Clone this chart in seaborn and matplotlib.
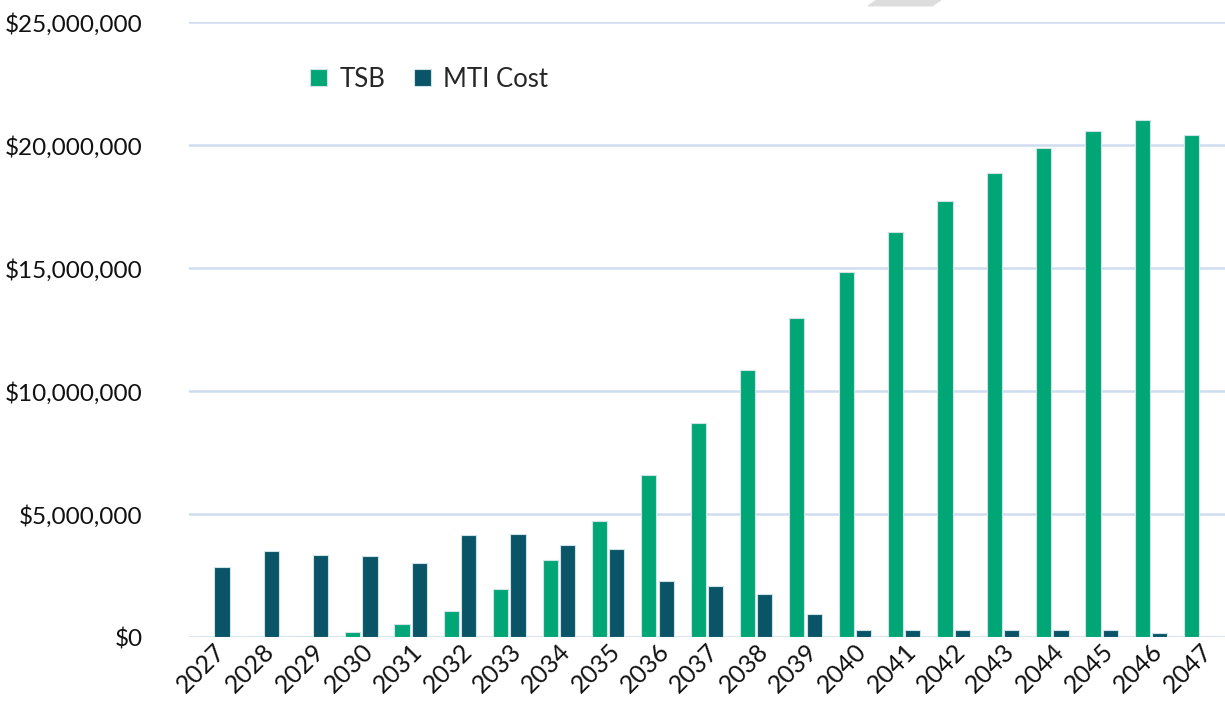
import matplotlib
matplotlib.use('Agg')
import matplotlib.pyplot as plt
import matplotlib.ticker as mticker
from matplotlib.patches import Polygon
import pandas as pd
import seaborn as sb

years = [str(y) for y in range(2027, 2048)]
tsb = [0, 0, 0.06, 0.20, 0.53, 1.07, 1.97, 3.15, 4.71, 6.58, 8.70, 10.85,
       12.97, 14.86, 16.46, 17.74, 18.88, 19.90, 20.57, 21.04, 20.42]
mti_cost = [2.83, 3.48, 3.33, 3.30, 3.03, 4.14, 4.18, 3.74, 3.57, 2.27, 2.07,
            1.75, 0.92, 0.27, 0.27, 0.30, 0.27, 0.28, 0.28, 0.18, 0]
series = ['TSB', 'MTI Cost']
colors = ['#00A676', '#0A5467']

df = pd.DataFrame({'year': years * 2,
                   'value': [v * 1e6 for v in tsb + mti_cost],
                   'series': [series[0]] * len(years) + [series[1]] * len(years)})

sb.set_style('white')
plt.rcParams['font.family'] = ['Lato', 'DejaVu Sans']

fig = plt.figure(figsize=(12.25, 7.19), dpi=100)
ax = fig.add_axes([0.154, 0.114, 0.846, 0.855])
sb.barplot(data=df, x='year', y='value', hue='series', palette=colors,
           saturation=1, width=0.7, gap=0.12, edgecolor='#cfe3e6',
           linewidth=0.8, ax=ax)

ax.set_ylim(0, 25e6)
ax.set_xlim(-0.5, len(years) - 0.5)
ax.yaxis.set_major_locator(mticker.MultipleLocator(5e6))
ax.yaxis.set_major_formatter(mticker.FuncFormatter(lambda v, p: '${:,.0f}'.format(v)))
ax.grid(axis='y', color='#d0dcf0', linewidth=1.8)
ax.set_axisbelow(True)
for s in ax.spines.values():
    s.set_visible(False)
ax.set_xlabel('')
ax.set_ylabel('')
ax.tick_params(axis='y', labelsize=17.5, pad=33, length=0, colors='#111111')
ax.tick_params(axis='x', labelsize=18, length=0, pad=2, colors='#111111')
plt.setp(ax.get_xticklabels(), rotation=45, ha='right', rotation_mode='anchor')

ax.legend(loc='upper left', bbox_to_anchor=(0.095, 0.965), ncol=2, frameon=False,
          fontsize=18.5, handlelength=0.65, handleheight=0.65, handletextpad=0.5,
          columnspacing=1.1)

fig.patches.append(Polygon([[0.716, 1.0], [0.768, 1.0], [0.761, 0.992], [0.709, 0.992]],
                           closed=True, transform=fig.transFigure, color='#dddddd'))

plt.savefig('out.png', dpi=100)
